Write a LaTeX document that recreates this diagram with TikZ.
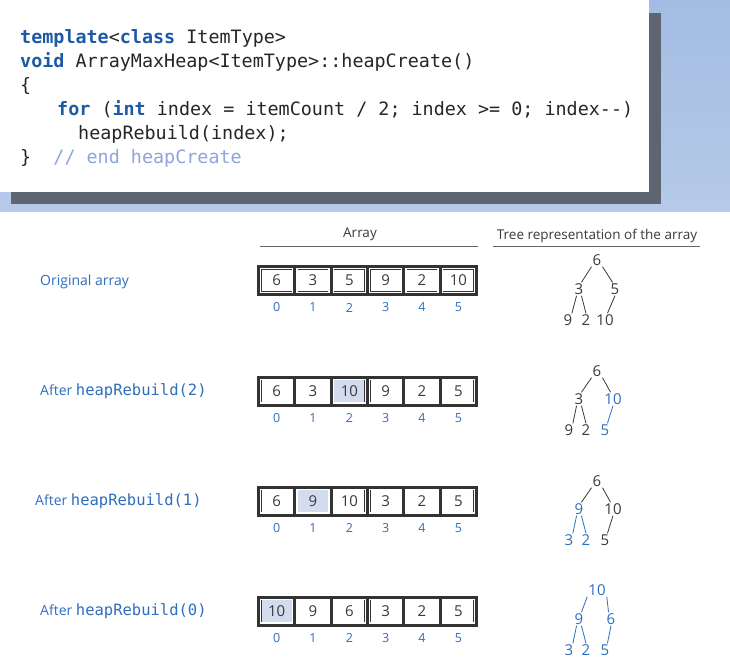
\documentclass[tikz,border=0pt]{standalone}
\usepackage{fontspec}
\setmainfont{Open Sans}
\newfontfamily\codefont{DejaVu Sans Mono}
\usetikzlibrary{positioning}

\definecolor{bgblue}{HTML}{A3BCE3}
\definecolor{bgbluelow}{HTML}{B6CAE8}
\definecolor{shadowgray}{HTML}{5E6570}
\definecolor{kwblue}{HTML}{1C5AA6}
\definecolor{cmtblue}{HTML}{8DA5DA}
\definecolor{lblblue}{HTML}{2F6EBD}
\definecolor{hlfill}{HTML}{D3DBEE}
\definecolor{framegray}{HTML}{333333}
\definecolor{txtgray}{HTML}{3A3A3A}

\newcommand{\kw}[1]{{\bfseries\color{kwblue}#1}}
\newcommand{\cmt}[1]{{\color{cmtblue}#1}}
\newcommand{\fn}[1]{{\codefont\fontsize{15.5}{18}\selectfont #1}}

\tikzset{
  codeline/.style={anchor=base west, inner sep=0pt, text=black!85,
    font=\codefont\fontsize{18.4}{22}\selectfont},
  rowlabel/.style={anchor=west, inner sep=0pt, text=lblblue,
    font=\fontsize{14}{16}\selectfont},
  header/.style={inner sep=0pt, text=txtgray, font=\fontsize{13.5}{15}\selectfont},
  rule/.style={draw=black!60, line width=0.8pt},
  cell/.style={draw=framegray, double=white, double distance=1.2pt,
    line width=0.5pt, fill=white, minimum width=32.1pt, minimum height=23.8pt,
    inner sep=0pt, text=txtgray, font=\fontsize{15}{17}\selectfont},
  hlcell/.style={cell, fill=hlfill},
  idx/.style={inner sep=0pt, text=lblblue, font=\fontsize{12.5}{14}\selectfont},
  tnode/.style={inner sep=1pt, text=txtgray, font=\fontsize{15}{17}\selectfont},
  tblue/.style={tnode, text=lblblue},
  tedge/.style={draw=txtgray, line width=0.8pt},
  bedge/.style={tedge, draw=lblblue}
}

\begin{document}
\begin{tikzpicture}[x=1pt, y=-1pt]
    \useasboundingbox (0,0) rectangle (730,670);
    \fill[white] (0,0) rectangle (730,670);

    % code panel
    \shade[top color=bgblue, bottom color=bgbluelow] (0,0) rectangle (730,211);
    \fill[shadowgray] (11,13) rectangle (661,204);
    \fill[white] (0,0) rectangle (649,192);
    \node[codeline] (code1) at (20,43) {\kw{template}<\kw{class} ItemType>};
    \node[codeline] (code2) at (20,67) {\kw{void} ArrayMaxHeap<ItemType>::heapCreate()};
    \node[codeline] (code3) at (20,91) {\{};
    \node[codeline] (code4) at (57,115) {\kw{for} (\kw{int} index = itemCount / 2; index >= 0; index-{}-)};
    \node[codeline] (code5) at (78,139) {heapRebuild(index);};
    \node[codeline] (code6) at (20,163) {\}\ \ \cmt{// end heapCreate}};

    % column headers
    \node[header] (hdrarray) at (360,234) {Array};
    \node[header] (hdrtree) at (597,236) {Tree representation of the array};
    \draw[rule] (260,246) -- (478,246);
    \draw[rule] (493,246) -- (700,246);

    % row labels
    \node[rowlabel] (lbl1) at (40,282) {Original array};
    \node[rowlabel] (lbl2) at (40,391) {After \fn{heapRebuild(2)}};
    \node[rowlabel] (lbl3) at (35,501) {After \fn{heapRebuild(1)}};
    \node[rowlabel] (lbl4) at (40,611) {After \fn{heapRebuild(0)}};

    % arrays
    \foreach \r/\yc/\vals/\hl in {1/280.5/{6,3,5,9,2,10}/9, 2/391/{6,3,10,9,2,5}/2,
                                  3/501/{6,9,10,3,2,5}/1, 4/611/{10,9,6,3,2,5}/0} {
      \fill[framegray] (257,\yc-15.5) rectangle (478,\yc+15.5);
      \foreach \v [count=\i from 0] in \vals {
        \ifnum\i=\hl\def\cst{hlcell}\else\def\cst{cell}\fi
        \node[\cst] (a\r-\i) at (258.5+36.33*\i+18.17,\yc) {\v};
        \node[idx] (ix\r-\i) at (258.5+36.33*\i+18.17,\yc+27) {\i};
      }
    }

    % tree 1
    \node[tnode] (t1r) at (597,260) {6};
    \node[tnode] (t1l) at (579,289) {3};
    \node[tnode] (t1rr) at (615,289) {5};
    \node[tnode] (t1ll) at (568,320) {9};
    \node[tnode] (t1lr) at (586,320) {2};
    \node[tnode] (t1rl) at (605,320) {10};
    \draw[tedge] (t1r.south west) -- (t1l.70);
    \draw[tedge] (t1r.south east) -- (t1rr.110);
    \draw[tedge] (t1l.250) -- (t1ll.60);
    \draw[tedge] (t1l.290) -- (t1lr.north);
    \draw[tedge] (t1rr.south) -- (t1rl.70);

    % tree 2
    \node[tnode] (t2r) at (597,371) {6};
    \node[tnode] (t2l) at (579,399) {3};
    \node[tblue] (t2rr) at (613,399) {10};
    \node[tnode] (t2ll) at (569,430) {9};
    \node[tnode] (t2lr) at (586,430) {2};
    \node[tblue] (t2rl) at (605,430) {5};
    \draw[tedge] (t2r.south west) -- (t2l.70);
    \draw[tedge] (t2r.south east) -- (t2rr.110);
    \draw[tedge] (t2l.250) -- (t2ll.60);
    \draw[tedge] (t2l.290) -- (t2lr.north);
    \draw[bedge] (t2rr.south) -- (t2rl.70);

    % tree 3
    \node[tnode] (t3r) at (597,481) {6};
    \node[tblue] (t3l) at (579,509) {9};
    \node[tnode] (t3rr) at (613,509) {10};
    \node[tblue] (t3ll) at (569,540) {3};
    \node[tblue] (t3lr) at (586,540) {2};
    \node[tnode] (t3rl) at (605,540) {5};
    \draw[tedge] (t3r.south west) -- (t3l.70);
    \draw[tedge] (t3r.south east) -- (t3rr.110);
    \draw[bedge] (t3l.250) -- (t3ll.60);
    \draw[bedge] (t3l.290) -- (t3lr.north);
    \draw[tedge] (t3rr.south) -- (t3rl.70);

    % tree 4
    \node[tblue] (t4r) at (597,590) {10};
    \node[tblue] (t4l) at (579,619) {9};
    \node[tblue] (t4rr) at (611,619) {6};
    \node[tblue] (t4ll) at (569,650) {3};
    \node[tblue] (t4lr) at (586,650) {2};
    \node[tblue] (t4rl) at (605,650) {5};
    \draw[bedge] (t4r.south west) -- (t4l.70);
    \draw[bedge] (t4r.south east) -- (t4rr.110);
    \draw[bedge] (t4l.250) -- (t4ll.60);
    \draw[bedge] (t4l.290) -- (t4lr.north);
    \draw[bedge] (t4rr.south) -- (t4rl.70);
\end{tikzpicture}
\end{document}
